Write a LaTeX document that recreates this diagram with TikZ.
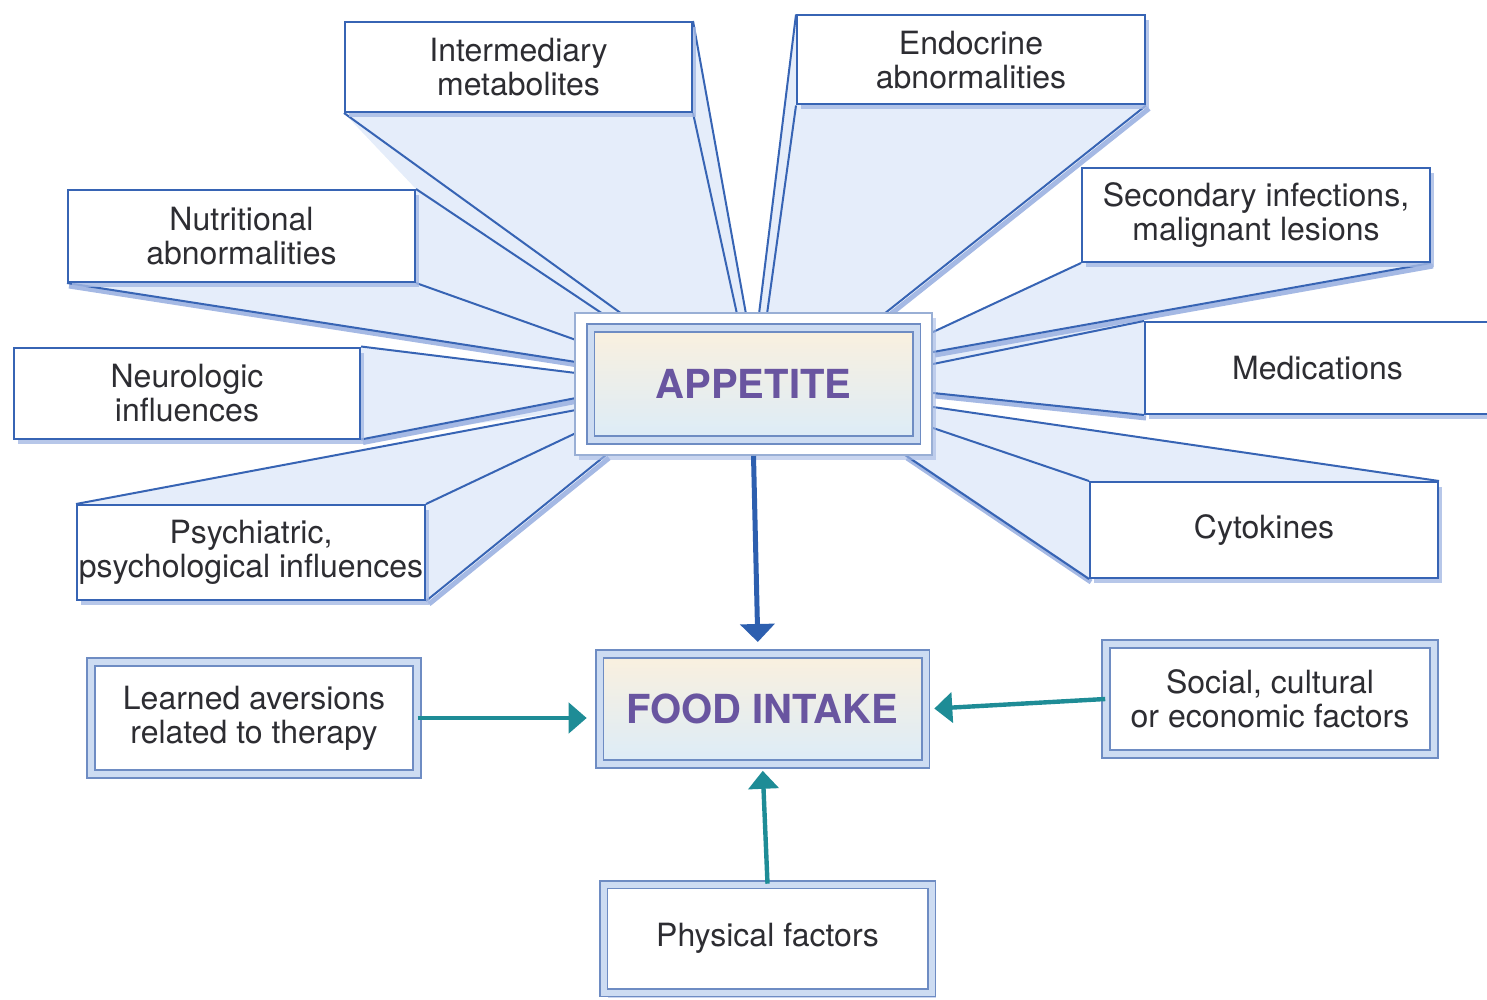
\documentclass[tikz,border=0pt]{standalone}
\usepackage{fontspec}
\setmainfont{TeX Gyre Heros}
\usetikzlibrary{arrows.meta,shadows,backgrounds}
\definecolor{edgec}{RGB}{55,100,180}
\definecolor{fanfill}{RGB}{229,237,250}
\definecolor{shadowc}{RGB}{165,185,228}
\definecolor{txtc}{RGB}{45,45,50}
\definecolor{titlec}{RGB}{105,85,160}
\definecolor{dblout}{RGB}{110,140,195}
\definecolor{dblin}{RGB}{205,220,242}
\definecolor{arrblue}{RGB}{45,95,175}
\definecolor{tealc}{RGB}{30,140,150}
\definecolor{ycol}{RGB}{250,240,222}
\definecolor{bcol}{RGB}{220,236,248}
\begin{document}
\begin{tikzpicture}[x=0.5pt,y=-0.5pt,
  fbox/.style={rectangle, draw=edgec, line width=1pt, fill=white, inner sep=0pt,
    align=center, text=txtc, font=\fontsize{16}{17}\selectfont,
    drop shadow={shadow xshift=2pt, shadow yshift=-2.5pt, fill=shadowc, opacity=0.8}},
  dblbox/.style={rectangle, draw=dblout, double=dblin, double distance=3pt, line width=0.8pt,
    fill=white, inner sep=0pt, align=center, text=txtc, font=\fontsize{16}{17}\selectfont,
    drop shadow={shadow xshift=2pt, shadow yshift=-2.5pt, fill=shadowc, opacity=0.6}},
  titlebox/.style={rectangle, draw=dblout, double=dblin, double distance=3pt, line width=0.8pt,
    top color=ycol, bottom color=bcol, inner sep=0pt, text=titlec,
    font=\bfseries\fontsize{20}{22}\selectfont},
  fanline/.style={draw=edgec, line width=1pt},
  fanshadow/.style={draw=shadowc, line width=2.5pt},
  bluearr/.style={draw=arrblue, line width=2.5pt, -{Triangle[length=9pt,width=17pt]}},
  tealarr/.style={draw=tealc, line width=2.2pt, -{Triangle[length=9pt,width=15pt]}}
]
\useasboundingbox (0,0) rectangle (1487,1000);

% factor boxes
\node[fbox, minimum width=173.5pt, minimum height=45pt] (int) at (518.5,67) {Intermediary\\metabolites};
\node[fbox, minimum width=174pt, minimum height=44.5pt] (endo) at (971,60) {Endocrine\\abnormalities};
\node[fbox, minimum width=173.5pt, minimum height=46pt] (nut) at (241.5,236) {Nutritional\\abnormalities};
\node[fbox, minimum width=174pt, minimum height=47pt] (sec) at (1256,215) {Secondary infections,\\malignant lesions};
\node[fbox, minimum width=173pt, minimum height=45.5pt] (neu) at (187,393) {Neurologic\\influences\hspace*{0pt}};
\node[fbox, minimum width=172.5pt, minimum height=46pt] (med) at (1317.5,368) {Medications};
\node[fbox, minimum width=174pt, minimum height=47.5pt] (psy) at (251,552.5) {Psychiatric,\\psychological influences};
\node[fbox, minimum width=174pt, minimum height=48pt] (cyt) at (1264,530) {Cytokines};

% central boxes
\node[rectangle, draw=dblout!70, line width=0.8pt, fill=white, minimum width=178.5pt, minimum height=71pt,
  drop shadow={shadow xshift=2pt, shadow yshift=-2.5pt, fill=shadowc, opacity=0.6}] (appo) at (753.5,384) {};
\node[titlebox, minimum width=163pt, minimum height=56pt] (app) at (753.5,384) {APPETITE};
\node[titlebox, minimum width=163pt, minimum height=55pt,
  drop shadow={shadow xshift=2pt, shadow yshift=-2.5pt, fill=shadowc, opacity=0.6}] (food) at (762.5,709) {FOOD INTAKE};

\node[dblbox, minimum width=163pt, minimum height=56pt] (learn) at (254,718) {Learned aversions\\related to therapy};
\node[dblbox, minimum width=164pt, minimum height=55pt] (soc) at (1270,699) {Social, cultural\\or economic factors};
\node[dblbox, minimum width=164pt, minimum height=54pt] (phys) at (767.5,938.5) {Physical factors};

% target points on the APPETITE frame
\coordinate (tN1) at (603,314);
\coordinate (tI1) at (622,314);
\coordinate (tI2) at (737,314);
\coordinate (tI3) at (746,314);
\coordinate (tE1) at (759,314);
\coordinate (tE2) at (767,314);
\coordinate (tE3) at (884,314);
\coordinate (tS1) at (933,332);
\coordinate (tS2) at (933,352);
\coordinate (tM1) at (933,364);
\coordinate (tM2) at (933,393);
\coordinate (tC1) at (933,407);
\coordinate (tC2) at (933,428);
\coordinate (tC3) at (905,455);
\coordinate (tP3) at (606,455);
\coordinate (tP2) at (576,433);
\coordinate (tP1) at (576,410);
\coordinate (tU2) at (576,398);
\coordinate (tU1) at (576,373);
\coordinate (tN3) at (576,362);
\coordinate (tN2) at (576,340);
\coordinate (aend) at (758,650);

\begin{pgfonlayer}{background}
\fill[fanfill] (nut.south west) -- (nut.north east) -- (int.south west) -- (int.north east)
  -- (tI3) -- (tE1) -- (endo.north west) -- (endo.south east) -- (tE3) -- (tS1)
  -- (sec.south west) -- (sec.south east) -- (tS2) -- (med.north west) -- (med.south west)
  -- (tM2) -- (tC1) -- (cyt.north east) -- (cyt.south west) -- (tC3) -- (tP3) -- (psy.south east)
  -- (psy.north west) -- (tP1) -- (neu.south east) -- (neu.north east) -- (tU1) -- (tN3) -- cycle;
% shadow lines
\draw[fanshadow] ([shift={(3,3)}]endo.south east) -- ([shift={(3,3)}]tE3);
\draw[fanshadow] ([shift={(2,3)}]sec.south east) -- ([shift={(2,3)}]tS2);
\draw[fanshadow] ([shift={(2,3)}]nut.south west) -- ([shift={(2,3)}]tN3);
\draw[fanshadow] ([shift={(2,3)}]neu.south east) -- ([shift={(2,3)}]tU2);
\draw[fanshadow] ([shift={(3,3)}]psy.south east) -- ([shift={(3,3)}]tP3);
\draw[fanshadow] ([shift={(2,3)}]med.south west) -- ([shift={(2,3)}]tM2);
\draw[fanshadow] ([shift={(2,3)}]cyt.south west) -- ([shift={(2,3)}]tC3);
% fan lines
\draw[fanline] (int.south west) -- (tI1);
\draw[fanline] (int.south east) -- (tI2);
\draw[fanline] (int.north east) -- (tI3);
\draw[fanline] (endo.north west) -- (tE1);
\draw[fanline] (endo.south west) -- (tE2);
\draw[fanline] (endo.south east) -- (tE3);
\draw[fanline] (nut.north east) -- (tN1);
\draw[fanline] (nut.south east) -- (tN2);
\draw[fanline] (nut.south west) -- (tN3);
\draw[fanline] (neu.north east) -- (tU1);
\draw[fanline] (neu.south east) -- (tU2);
\draw[fanline] (psy.north west) -- (tP1);
\draw[fanline] (psy.north east) -- (tP2);
\draw[fanline] (psy.south east) -- (tP3);
\draw[fanline] (sec.south west) -- (tS1);
\draw[fanline] (sec.south east) -- (tS2);
\draw[fanline] (med.north west) -- (tM1);
\draw[fanline] (med.south west) -- (tM2);
\draw[fanline] (cyt.north east) -- (tC1);
\draw[fanline] (cyt.north west) -- (tC2);
\draw[fanline] (cyt.south west) -- (tC3);
\end{pgfonlayer}

% arrows
\draw[bluearr, shorten >=4pt] (appo.south) -- (aend);
\draw[tealarr, shorten >=6pt] (learn.east) -- (learn.east -| food.west);
\draw[tealarr, shorten >=4pt] (soc.west) -- (food.east);
\draw[tealarr, shorten >=3pt] (phys.north) -- (food.south);
\end{tikzpicture}
\end{document}
